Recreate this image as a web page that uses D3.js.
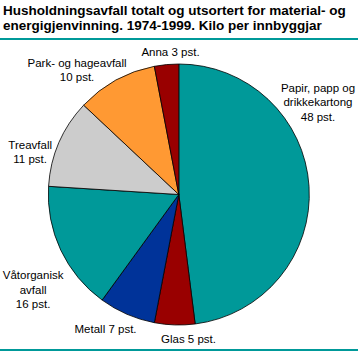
<!DOCTYPE html>
<html>
<head>
<meta charset="utf-8">
<script src="https://cdn.jsdelivr.net/npm/d3@7"></script>
<style>
	body { margin: 0; background: #fff; }
	svg { display: block; font-family: "Liberation Sans", Arial, sans-serif; }
	.title { font-weight: bold; font-size: 13.5px; fill: #000; }
	.label { font-size: 11.5px; fill: #000; }
</style>
</head>
<body>
<script>
(function() {

"use strict";

const TITLE = [
	"Husholdningsavfall totalt og utsortert for material- og",
	"energigjenvinning. 1974-1999. Kilo per innbyggjar",
];

const CATEGORY = [
	"Papir, papp og\ndrikkekartong",
	"Glas",
	"Metall",
	"Våtorganisk\navfall",
	"Treavfall",
	"Park- og hageavfall",
	"Anna",
];

const SHARE = [48, 5, 7, 16, 11, 10, 3];

const COLOR = ["#009999", "#990000", "#003399", "#009999", "#cccccc", "#ff9933", "#990000"];

// labels that sit on a single line with their value
const INLINE = [false, true, true, false, false, false, true];

const width = 358, height = 353;
const center = {x: 178.8, y: 194.5};
const radius = 130.5;

// hand nudges so labels land where the original put them
const nudge = [[-10.5, -83], [14.4, -5.4], [-13.7, -3.2], [-10, 31.6], [-11, 17], [-29.5, 7], [5.8, 6.8]];

let svg = d3.select(document.body).append("svg")
	.attr("width", width)
	.attr("height", height);

svg.append("g")
	.selectAll("text")
	.data(TITLE)
	.join("text")
		.attr("class", "title")
		.attr("x", 3)
		.attr("y", (d, i) => 15 + i * 15)
		.text(d => d);

svg.append("rect")
	.attr("x", 0).attr("y", 38)
	.attr("width", width).attr("height", 2)
	.attr("fill", "#009999");

svg.append("rect")
	.attr("x", 0).attr("y", 349)
	.attr("width", width).attr("height", 2)
	.attr("fill", "#009999");

let pie = d3.pie().sort(null).value(d => d.value);
let data = pie(SHARE.map((value, i) => ({value, name: CATEGORY[i], i})));

let arc = d3.arc().innerRadius(0).outerRadius(radius);
let labelArc = d3.arc().innerRadius(150).outerRadius(150);

let chart = svg.append("g")
	.attr("transform", `translate(${center.x}, ${center.y})`);

chart.selectAll("path")
	.data(data)
	.join("path")
		.attr("d", arc)
		.attr("fill", d => COLOR[d.data.i])
		.attr("stroke", "#000")
		.attr("stroke-width", 0.8)
		.attr("stroke-linejoin", "round");

let lineHeight = 14.5;

chart.selectAll("text")
	.data(data)
	.join("text")
		.attr("class", "label")
		.attr("text-anchor", "middle")
		.each(function(d) {
			let i = d.data.i;
			let lines = d.data.name.split("\n");
			let pct = `${d.data.value} pst.`;
			if (INLINE[i])
				lines[lines.length - 1] += " " + pct;
			else
				lines.push(pct);

			let [x, y] = labelArc.centroid(d);
			x += nudge[i][0];
			y += nudge[i][1];
			let first = y - (lines.length - 1) * lineHeight / 2 + 4;

			d3.select(this).selectAll("tspan")
				.data(lines)
				.join("tspan")
					.attr("x", x)
					.attr("y", (l, j) => first + j * lineHeight)
					.text(l => l);
		});

})();
</script>
</body>
</html>
